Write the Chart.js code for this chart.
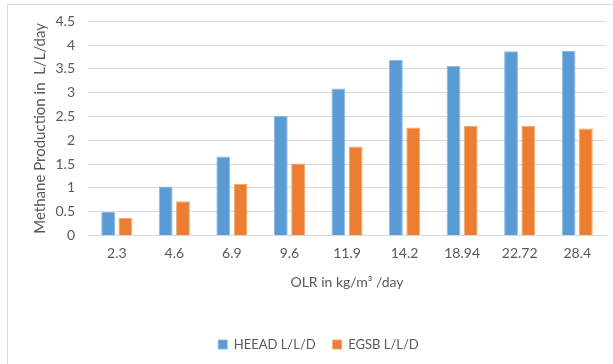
<!DOCTYPE html>
<html>
<head>
<meta charset="utf-8">
<script src="https://cdn.jsdelivr.net/npm/chart.js@4/dist/chart.umd.min.js"></script>
<style>
  html, body { margin: 0; padding: 0; background: #fff; }
  #wrap { position: relative; width: 613px; height: 364px; }
</style>
</head>
<body>
<div id="wrap"><canvas id="c" width="613" height="364"></canvas></div>
<script>
// Organic loading rates (kg/m3/day)
const olrLabels = ['2.3', '4.6', '6.9', '9.6', '11.9', '14.2', '18.94', '22.72', '28.4'];
// Methane production (L/L/day)
const heeadValues = [0.49, 1.03, 1.66, 2.51, 3.09, 3.69, 3.56, 3.87, 3.88];
const egsbValues  = [0.37, 0.72, 1.08, 1.51, 1.87, 2.27, 2.30, 2.30, 2.25];
const seriesNames = ['HEEAD L/L/D', 'EGSB L/L/D'];

const FONT = 'Lato, "Open Sans", sans-serif';
const TEXT = '#595959';

// light frame around the chart
const framePlugin = {
  id: 'frame',
  beforeDraw(chart) {
    const ctx = chart.ctx;
    ctx.save();
    ctx.strokeStyle = '#d9d9d9';
    ctx.lineWidth = 1;
    ctx.beginPath();
    ctx.moveTo(7.5, 364);
    ctx.lineTo(7.5, 4.5);
    ctx.lineTo(613, 4.5);
    ctx.stroke();
    ctx.restore();
  }
};

new Chart(document.getElementById('c'), {
  type: 'bar',
  data: {
    labels: olrLabels,
    datasets: [
      { label: seriesNames[0], data: heeadValues, backgroundColor: '#5B9BD5', borderColor: '#8db9e2', borderWidth: 1 },
      { label: seriesNames[1], data: egsbValues,  backgroundColor: '#ED7D31', borderColor: '#f3a774', borderWidth: 1 }
    ]
  },
  options: {
    responsive: false,
    animation: false,
    devicePixelRatio: 1,
    layout: { padding: { left: 31, right: 7, top: 19, bottom: 3 } },
    datasets: { bar: { categoryPercentage: 0.6, barPercentage: 0.8 } },
    plugins: {
      legend: {
        position: 'bottom',
        labels: {
          font: { family: FONT, size: 13 },
          color: TEXT,
          boxWidth: 9,
          boxHeight: 9,
          padding: 17
        }
      },
      tooltip: { enabled: false }
    },
    scales: {
      x: {
        grid: { display: false, drawTicks: false },
        border: { color: '#d9d9d9' },
        ticks: { font: { family: FONT, size: 14 }, color: TEXT, padding: 10 },
        title: {
          display: true,
          text: 'OLR in kg/m\u00b3 /day',
          font: { family: FONT, size: 14 },
          color: TEXT,
          padding: { top: 2, bottom: 30 }
        }
      },
      y: {
        min: 0,
        max: 4.5,
        afterFit(scale) { scale.width = 57; },
        ticks: {
          stepSize: 0.5,
          font: { family: FONT, size: 14 },
          color: TEXT,
          padding: 13,
          callback: (v) => String(Number(v))
        },
        grid: { color: '#d9d9d9', drawTicks: false },
        border: { display: false },
        title: {
          display: true,
          text: 'Methane Production in  L/L/day',
          font: { family: FONT, size: 15 },
          color: TEXT,
          padding: { top: 0, bottom: 4 }
        }
      }
    }
  },
  plugins: [framePlugin]
});
</script>
</body>
</html>
